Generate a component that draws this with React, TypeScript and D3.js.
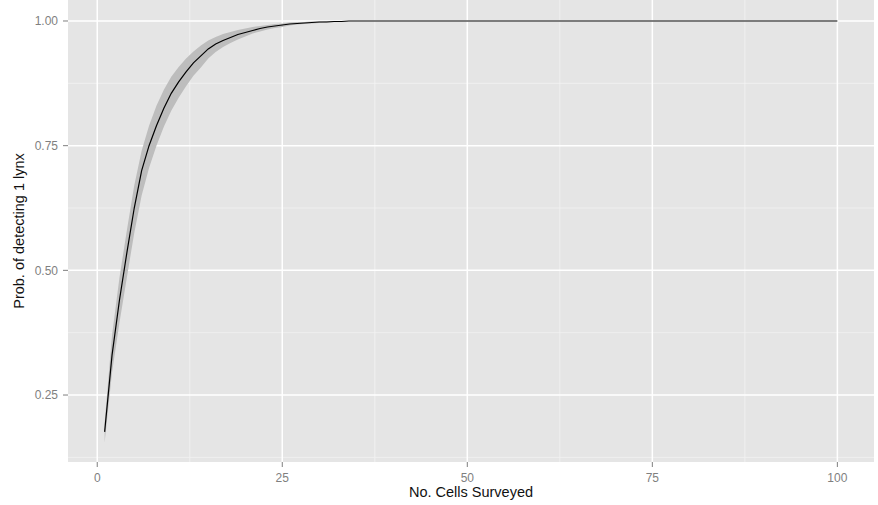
import * as d3 from 'd3';

// number of cells surveyed and probability of detecting at least one lynx
const cells = [
  1, 2, 3, 4, 5, 6, 7, 8, 9, 10, 11, 12, 13, 14, 15, 16, 17, 18, 19, 20,
  21, 22, 23, 24, 25, 26, 27, 28, 29, 30, 31, 32, 33, 34, 40, 50, 60, 70, 80, 90, 100,
];
const probMean = [
  0.176, 0.33, 0.44, 0.535, 0.625, 0.7, 0.75, 0.79, 0.825, 0.855, 0.878, 0.898, 0.916, 0.93,
  0.944, 0.954, 0.961, 0.967, 0.973, 0.977, 0.981, 0.985, 0.988, 0.99, 0.992, 0.994, 0.995,
  0.996, 0.997, 0.998, 0.998, 0.999, 0.999, 1, 1, 1, 1, 1, 1, 1, 1,
];
const probLower = [
  0.155, 0.295, 0.395, 0.485, 0.575, 0.65, 0.705, 0.75, 0.788, 0.82, 0.846, 0.869, 0.89,
  0.907, 0.925, 0.938, 0.948, 0.956, 0.963, 0.969, 0.975, 0.979, 0.983, 0.986, 0.988, 0.991,
  0.993, 0.994, 0.995, 0.996, 0.997, 0.998, 0.999, 1, 1, 1, 1, 1, 1, 1, 1,
];
const probUpper = [
  0.195, 0.37, 0.485, 0.58, 0.67, 0.74, 0.79, 0.83, 0.862, 0.888, 0.908, 0.925, 0.939, 0.951,
  0.961, 0.968, 0.974, 0.978, 0.982, 0.985, 0.988, 0.99, 0.992, 0.994, 0.995, 0.997, 0.998,
  0.998, 0.999, 0.999, 1, 1, 1, 1, 1, 1, 1, 1, 1, 1, 1,
];

const xTicks = [0, 25, 50, 75, 100];
const xMinor = [12.5, 37.5, 62.5, 87.5];
const yTicks = [0.25, 0.5, 0.75, 1.0];
const yMinor = [0.125, 0.375, 0.625, 0.875];

const W = 878;
const H = 505;
const panel = { left: 68, right: 874, top: 0, bottom: 462 };
const font = 'Arial, "Liberation Sans", sans-serif';

export default function App() {
  const x = d3.scaleLinear().domain([-3.95, 104.95]).range([panel.left, panel.right]);
  const y = d3.scaleLinear().domain([0.1157, 1.0421]).range([panel.bottom, panel.top]);

  const rows = cells.map((c, i) => ({ c, m: probMean[i], lo: probLower[i], hi: probUpper[i] }));

  const area = d3
    .area<any>()
    .x((d) => x(d.c))
    .y0((d) => y(d.lo))
    .y1((d) => y(d.hi));
  const line = d3
    .line<any>()
    .x((d) => x(d.c))
    .y((d) => y(d.m));

  const pw = panel.right - panel.left;
  const ph = panel.bottom - panel.top;

  return (
    <svg
      width={W}
      height={H}
      style={{ position: 'absolute', left: 0, top: 0, background: '#fff' }}
      fontFamily={font}
    >
      <rect x={panel.left} y={panel.top} width={pw} height={ph} fill="#e5e5e5" />
      {xMinor.map((t) => (
        <line key={'xm' + t} x1={x(t)} x2={x(t)} y1={panel.top} y2={panel.bottom} stroke="#f2f2f2" strokeWidth={0.8} />
      ))}
      {yMinor.map((t) => (
        <line key={'ym' + t} x1={panel.left} x2={panel.right} y1={y(t)} y2={y(t)} stroke="#f2f2f2" strokeWidth={0.8} />
      ))}
      {xTicks.map((t) => (
        <line key={'xg' + t} x1={x(t)} x2={x(t)} y1={panel.top} y2={panel.bottom} stroke="#fff" strokeWidth={1.5} />
      ))}
      {yTicks.map((t) => (
        <line key={'yg' + t} x1={panel.left} x2={panel.right} y1={y(t)} y2={y(t)} stroke="#fff" strokeWidth={1.5} />
      ))}

      <path d={area(rows) || ''} fill="#bdbdbd" />
      <path d={line(rows) || ''} fill="none" stroke="#000" strokeWidth={1.2} />

      {xTicks.map((t) => (
        <g key={'xt' + t} transform={`translate(${x(t)},0)`}>
          <line y1={panel.bottom} y2={panel.bottom + 5} stroke="#7f7f7f" />
          <text y={482} textAnchor="middle" fontSize={12} fill="#7f7f7f">
            {t}
          </text>
        </g>
      ))}
      {yTicks.map((t) => (
        <g key={'yt' + t} transform={`translate(0,${y(t)})`}>
          <line x1={panel.left - 5} x2={panel.left} stroke="#7f7f7f" />
          <text x={58} dy="0.35em" textAnchor="end" fontSize={12} fill="#7f7f7f">
            {d3.format('.2f')(t)}
          </text>
        </g>
      ))}

      <text x={(panel.left + panel.right) / 2} y={497} textAnchor="middle" fontSize={14.5} fill="#111">
        No. Cells Surveyed
      </text>
      <text
        transform={`translate(24,${(panel.top + panel.bottom) / 2}) rotate(-90)`}
        textAnchor="middle"
        fontSize={14.5}
        fill="#111"
      >
        Prob. of detecting 1 lynx
      </text>
    </svg>
  );
}
